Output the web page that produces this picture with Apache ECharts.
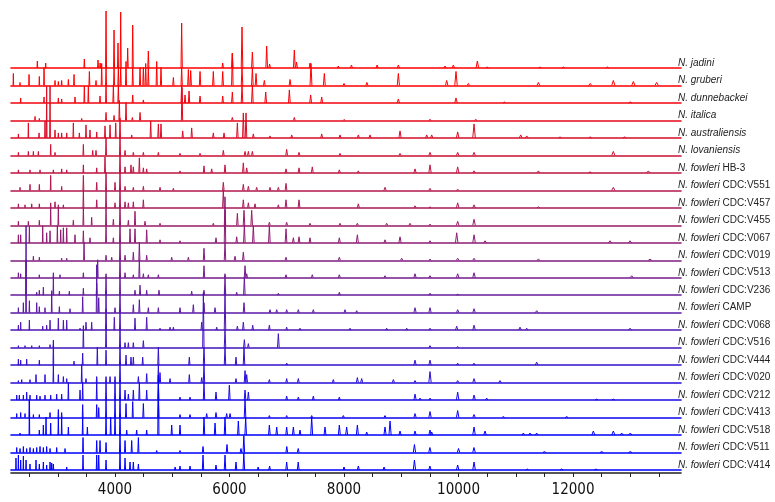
<!DOCTYPE html>
<html>
<head>
<meta charset="utf-8">
<script src="https://cdn.jsdelivr.net/npm/echarts@6/dist/echarts.min.js"></script>
<style>html,body{margin:0;padding:0;background:#fff}#c{width:775px;height:502px}</style>
</head>
<body>
<div id="c"></div>
<script>
// ---- data: m/z axis ----
const XMIN = 2183, XMAX = 13886;
const tickValues = [2500,3000,3500,4000,4500,5000,5500,6000,6500,7000,7500,8000,8500,9000,9500,10000,10500,11000,11500,12000,12500,13000,13500];
const tickLabels = [4000,6000,8000,10000,12000];

// ---- data: sample names ----
const species = ['N. jadini','N. gruberi','N. dunnebackei','N. italica','N. australiensis','N. lovaniensis',
  'N. fowleri','N. fowleri','N. fowleri','N. fowleri','N. fowleri','N. fowleri','N. fowleri','N. fowleri','N. fowleri',
  'N. fowleri','N. fowleri','N. fowleri','N. fowleri','N. fowleri','N. fowleri','N. fowleri','N. fowleri','N. fowleri'];
const strains = ['','','','','','','HB-3','CDC:V551','CDC:V457','CDC:V455','CDC:V067','CDC:V019','CDC:V513','CDC:V236',
  'CAMP','CDC:V068','CDC:V516','CDC:V444','CDC:V020','CDC:V212','CDC:V413','CDC:V518','CDC:V511','CDC:V414'];

// ---- data: peak lists [m/z, intensity (a.u.)] ----
const jadini = [[2643,7],[2789,5],[3464,9],[3703,8],[3740,5],[3843,57],[3983,38],[4052,25],[4099,56],[4221,20],[4309,43],[4582,17],[5164,45],[5881,5],[6049,15],[6218,41],[6399,16],[6649,22],[6700,4],[7132,18],[7170,6],[7406,5],[7900,2],[8130,3],[8578,3],[8949,3],[9764,2],[9910,3],[10329,7],[10500,1],[11423,1],[11831,1],[12600,1]];
const gruberi = [[2224,12],[2341,3],[2498,11],[2678,9],[2760,18],[2952,5],[3010,4],[3068,5],[3185,6],[3284,11],[3552,14],[3668,5],[3767,22],[3843,18],[3983,18],[4058,18],[4099,18],[4192,24],[4309,18],[4437,18],[4495,18],[4536,22],[4582,18],[4728,24],[4803,18],[5019,8],[5164,18],[5281,16],[5322,15],[5485,14],[5717,14],[5881,14],[6049,32],[6218,18],[6399,18],[6463,12],[6608,5],[7057,6],[7423,22],[7656,12],[8000,2],[8400,3],[8949,12],[9793,5],[9956,14],[10172,2],[11395,3],[12300,2],[12704,5],[13054,4],[13461,3]];
const dunnebackei = [[2352,5],[2760,6],[3010,5],[3068,4],[3301,6],[3464,17],[3534,17],[3738,7],[3843,18],[3971,18],[4058,18],[4309,8],[4495,3],[5164,18],[5223,8],[5293,12],[5485,7],[5881,7],[6049,11],[6218,18],[6399,18],[6632,11],[7045,13],[7417,8],[7610,6],[8949,4],[9956,5],[10800,1],[13000,1]];
const italica = [[2603,4],[2678,2],[3418,2],[3843,8],[3983,5],[4076,20],[4192,18],[4303,3],[4437,8],[5170,33],[6049,3],[7132,3],[8000,1],[9500,1],[10300,1]];
const australiensis = [[2312,4],[2486,15],[2673,5],[2777,17],[2806,52],[2865,52],[2952,8],[3010,5],[3068,5],[3156,5],[3272,15],[3377,5],[3493,13],[3563,8],[3680,6],[3825,12],[3913,13],[4012,15],[4087,20],[4291,3],[4623,17],[4757,14],[4803,14],[5182,7],[5339,10],[5717,5],[5904,5],[6137,15],[6241,25],[6288,25],[6416,4],[6707,2],[7086,3],[7610,4],[7930,3],[8250,3],[8454,3],[8978,7],[9444,3],[9531,3],[9985,6],[10271,14],[11086,3],[11191,2],[11773,1],[12300,1],[12900,1]];
const lovaniensis = [[2312,3],[2486,4],[2574,4],[2661,4],[2876,11],[2952,3],[3447,11],[3610,5],[3668,5],[3843,18],[4087,20],[4175,5],[4320,3],[4495,3],[4757,3],[5135,2],[5485,2],[5892,5],[6271,4],[6329,4],[6399,4],[6998,6],[7214,3],[7930,2],[8978,2],[9502,3],[9985,3],[10271,3],[12704,4]];
const fowleriHB3 = [[2312,3],[2515,3],[2690,3],[2923,3],[3068,4],[3156,3],[3447,8],[3680,5],[3825,16],[4087,20],[4175,6],[4279,8],[4320,6],[4425,15],[4495,5],[4553,4],[5135,2],[5554,7],[5688,4],[5921,8],[6241,10],[6300,5],[6987,4],[7214,5],[7446,6],[7918,3],[8250,2],[9240,4],[9502,8],[9985,6],[10271,2],[11395,2],[12297,1],[13316,2]];
const fowleriV551 = [[2341,3],[2515,6],[2678,6],[2876,15],[3068,4],[3447,15],[3680,8],[3843,18],[4000,8],[4087,20],[4175,4],[4320,3],[4495,4],[4786,3],[5019,2],[5892,8],[6241,6],[6329,4],[6474,3],[6707,3],[6853,3],[6987,7],[8716,3],[9502,2],[9985,1],[12704,3]];
const fowleriV457 = [[2312,4],[2428,3],[2545,4],[2678,4],[2876,5],[2952,6],[3010,3],[3098,3],[3447,18],[3680,8],[3843,18],[4000,5],[4087,20],[4175,6],[4233,5],[4320,6],[4495,8],[5892,18],[6241,8],[6329,5],[6445,4],[6853,3],[6987,8],[7214,8],[8250,4],[9240,2],[9502,1],[9985,5],[10271,3],[11395,1]];
const fowleriV455 = [[2312,4],[2486,4],[2678,5],[2876,18],[3010,18],[3272,5],[3447,18],[3592,8],[3843,18],[3971,6],[4087,20],[4233,5],[4349,14],[4524,4],[4786,2],[5717,2],[5921,15],[6137,12],[6253,15],[6387,15],[6696,3],[6998,3],[7406,2],[7930,2],[8233,2],[8745,2],[9153,2],[9502,1],[9985,4],[10271,6]];
const fowleriV067 = [[2312,8],[2352,8],[2504,17],[2737,17],[2806,10],[2865,12],[2993,17],[3051,13],[3098,15],[3156,15],[3301,8],[3447,12],[3563,5],[3843,18],[3971,5],[4087,20],[4262,14],[4349,14],[4553,13],[4786,3],[5135,2],[5764,5],[5921,46],[6125,6],[6259,18],[6416,17],[6696,17],[6987,14],[7115,5],[7214,6],[7406,5],[7918,5],[8233,8],[8716,3],[8978,6],[9502,2],[9968,10],[10271,8],[10463,2],[12646,2],[12996,2]];
const fowleriV019 = [[2574,4],[2678,3],[3068,2],[3156,2],[3459,18],[3843,5],[3942,3],[4087,20],[4175,5],[4320,8],[4425,18],[4553,5],[4990,3],[5281,3],[5554,12],[5921,18],[6096,4],[6241,8],[6987,3],[7918,3],[9007,2],[9502,1],[9985,2],[10271,2],[11395,1],[13345,1]];
const fowleriV513 = [[2312,5],[2352,4],[2446,18],[2678,3],[2923,5],[3039,3],[3447,5],[3697,18],[3843,4],[4087,20],[4175,5],[4320,3],[4425,18],[4495,4],[4582,3],[4757,3],[5554,12],[5921,4],[6271,12],[6300,4],[6987,3],[7446,3],[7918,3],[8716,2],[9240,4],[9502,2],[9985,4],[10271,5],[13025,2]];
const fowleriV236 = [[2446,18],[2632,3],[2678,5],[2748,8],[2923,18],[3028,4],[3202,4],[3447,7],[3680,12],[3843,18],[4087,20],[4349,5],[4437,10],[4553,5],[4768,5],[5339,4],[5554,5],[5921,18],[6125,3],[6259,18],[6853,2],[7918,3],[9502,2],[9985,1]];
const fowleriCAMP = [[2312,5],[2399,10],[2446,87],[2504,12],[2632,10],[2678,6],[2777,5],[2894,22],[3028,6],[3214,4],[3435,16],[3680,48],[3715,15],[3843,4],[4000,5],[4087,20],[4320,8],[4425,13],[4582,5],[4757,5],[5135,5],[5368,8],[5554,10],[5747,5],[6253,10],[6707,3],[6824,3],[6998,3],[7202,3],[7464,3],[8017,3],[8221,2],[9240,5],[9502,5],[9985,3],[10271,4],[11365,2]];
const fowleriV068 = [[2312,5],[2352,8],[2504,10],[2737,4],[2806,5],[2865,10],[3010,12],[3098,10],[3156,10],[3389,2],[3493,8],[3592,8],[3843,40],[3988,13],[4087,20],[4349,12],[4553,13],[4786,2],[4961,3],[5019,3],[5514,8],[5776,3],[5921,40],[6137,4],[6241,8],[6405,5],[6696,5],[6998,3],[7231,2],[8105,2],[8745,2],[9095,2],[9502,2],[9968,4],[10271,5],[11074,3],[11191,2],[12996,2]];
const fowleriV516 = [[2312,2],[2428,2],[2545,2],[2678,2],[2865,3],[2923,3],[3447,22],[3843,22],[4087,20],[4175,5],[4233,5],[4320,5],[4495,7],[5543,55],[5921,18],[6259,8],[6329,4],[6853,14],[9502,2],[9985,1]];
const fowleriV444 = [[2312,6],[2352,5],[2457,6],[2678,5],[2923,25],[3284,4],[3435,12],[3691,18],[3843,15],[4087,20],[4192,10],[4279,8],[4320,8],[4483,8],[4757,18],[5298,8],[5554,18],[5921,18],[6113,8],[6253,18],[7000,2],[9240,5],[9502,5],[9985,2],[10271,2],[11365,3]];
const fowleriV020 = [[2312,2],[2370,3],[2515,3],[2620,8],[2777,8],[2923,18],[3010,8],[3098,6],[3156,4],[3418,18],[3493,4],[3680,6],[3843,6],[3913,6],[4000,6],[4087,20],[4408,6],[4553,9],[4757,18],[4786,10],[4961,4],[5298,8],[5514,5],[5554,18],[6113,4],[6271,12],[6300,8],[6696,3],[6998,4],[7202,4],[7813,3],[8233,5],[8308,4],[8862,3],[9240,2],[9502,11],[9985,2],[10271,4],[10725,2]];
const fowleriV212 = [[2283,5],[2329,5],[2399,5],[2457,8],[2515,5],[2632,5],[2690,4],[2777,5],[2876,5],[2981,6],[3068,6],[3185,18],[3389,10],[3435,18],[3680,18],[3843,18],[4000,18],[4087,20],[4175,10],[4233,6],[4320,10],[4425,18],[4553,10],[4757,18],[5135,3],[5310,3],[5554,18],[5764,8],[5997,15],[6271,10],[6329,8],[6998,4],[7202,3],[7464,4],[7918,3],[9240,6],[9328,2],[9502,2],[9985,8],[10271,5],[10492,2],[12413,1],[12704,1]];
const fowleriV413 = [[2283,4],[2352,5],[2428,4],[2504,18],[2574,3],[2678,3],[2865,5],[3010,8],[3068,5],[3435,13],[3680,13],[3715,10],[3843,18],[4000,18],[4087,20],[4192,14],[4309,16],[4495,14],[4757,18],[5135,3],[5310,3],[5601,4],[5764,5],[5950,4],[6009,4],[6271,18],[6696,2],[6998,2],[7435,2],[7988,2],[8716,2],[9240,4],[9502,6],[9985,7],[10271,3],[10783,1],[11889,1]];
const fowleriV518 = [[2341,2],[2504,35],[2678,5],[2748,10],[2795,18],[2876,12],[3010,18],[3068,18],[3185,8],[3435,18],[3517,8],[3843,18],[3924,18],[4000,18],[4087,20],[4204,5],[4378,5],[4553,5],[4757,60],[4990,10],[5135,10],[5554,18],[5747,12],[5921,18],[6154,14],[6282,18],[6696,10],[6824,8],[6998,8],[7115,8],[7231,5],[7435,18],[7668,8],[7918,10],[8046,8],[8233,10],[8396,3],[8716,8],[8804,14],[8978,4],[9240,4],[9502,5],[9531,3],[10271,8],[10463,4],[11132,2],[11249,2],[11365,2],[12355,4],[12704,4],[12850,2],[13000,2]];
const fowleriV511 = [[2283,5],[2341,4],[2399,6],[2457,4],[2515,5],[2574,4],[2632,5],[2690,6],[2748,5],[2806,6],[2865,4],[2981,5],[3127,4],[3441,15],[3680,12],[3738,12],[3843,10],[4087,20],[4175,12],[4291,12],[4408,15],[4728,2],[5135,2],[5537,6],[5956,8],[6200,4],[6250,17],[7000,6],[7200,4],[9230,8],[9500,5],[10000,4],[10270,5],[11500,1],[12500,1],[13000,1]];
const fowleriV414 = [[2270,12],[2312,15],[2352,10],[2399,14],[2446,10],[2515,6],[2620,10],[2678,6],[2748,8],[2806,5],[2865,8],[2894,7],[2923,6],[3156,3],[3441,15],[3680,15],[3715,15],[3843,10],[4087,20],[4175,12],[4262,8],[4320,8],[4408,6],[5050,3],[5135,4],[5310,4],[5537,15],[5764,5],[5921,15],[6113,8],[6250,17],[6500,3],[6700,4],[6998,8],[7200,8],[8000,3],[8250,4],[8700,3],[9230,10],[9500,4],[9985,5],[10271,8],[11200,1],[11800,1],[12400,1]];

const spectra = [jadini,gruberi,dunnebackei,italica,australiensis,lovaniensis,fowleriHB3,fowleriV551,fowleriV457,
  fowleriV455,fowleriV067,fowleriV019,fowleriV513,fowleriV236,fowleriCAMP,fowleriV068,fowleriV516,fowleriV444,
  fowleriV020,fowleriV212,fowleriV413,fowleriV518,fowleriV511,fowleriV414];

// ---- layout / style ----
const n = spectra.length;
const firstBase = 68, step = (470 - 68) / (n - 1);
const plotLeft = 11, plotWidth = 670;
function rowColor(i) {
  const t = Math.min(1, Math.max(0, (i - 1) / (n - 4)));
  const r = Math.round(255 * (1 - t)), g = Math.round(28 * Math.sin(Math.PI * t)), b = Math.round(255 * t);
  return 'rgb(' + r + ',' + g + ',' + b + ')';
}
const grids = [], xAxes = [], yAxes = [], series = [], graphics = [];
spectra.forEach(function (peaks, i) {
  const base = firstBase + i * step;
  const gtop = Math.max(0, base - 90);
  const col = rowColor(i);
  grids.push({ left: plotLeft, width: plotWidth, top: gtop, height: base - gtop });
  yAxes.push({ gridIndex: i, type: 'value', min: 0, max: base - gtop, show: false });
  xAxes.push({ gridIndex: i, type: 'value', min: XMIN, max: XMAX,
    axisLine: { show: true, onZero: false, lineStyle: { color: col, width: 1.6 } },
    axisTick: { show: false }, axisLabel: { show: false }, splitLine: { show: false } });
  series.push({ type: 'custom', xAxisIndex: i, yAxisIndex: i, data: peaks, clip: false, silent: true,
    renderItem: function (params, api) {
      const mz = api.value(0), h = api.value(1), w = mz * 0.0022;
      return { type: 'polyline',
        shape: { points: [api.coord([mz - w, 0]), api.coord([mz, h]), api.coord([mz + w, 0])] },
        style: { stroke: col, lineWidth: 1, fill: null } };
    } });
  const txt = strains[i] ? '{it|' + species[i] + '} ' + strains[i] : '{it|' + species[i] + '}';
  graphics.push({ type: 'text', x: 678, y: base - 5, silent: true,
    style: { text: txt, fill: '#222', fontSize: 10, fontFamily: 'Liberation Sans, Arial, sans-serif',
      verticalAlign: 'middle', align: 'left',
      rich: { it: { fontStyle: 'italic', fontSize: 10, fill: '#222', fontFamily: 'Liberation Sans, Arial, sans-serif' } } } });
});
// bottom m/z axis
xAxes.push({ gridIndex: n - 1, type: 'value', min: XMIN, max: XMAX, position: 'bottom', offset: 3,
  axisLine: { show: true, onZero: false, lineStyle: { color: '#222', width: 1.6 } },
  axisTick: { show: true, customValues: tickValues, length: 4, lineStyle: { color: '#222', width: 1 } },
  axisLabel: { show: true, customValues: tickLabels, margin: 10, fontSize: 15, color: '#111',
    formatter: function (v) { return String(v); },
    fontFamily: "'Liberation Sans Narrow', 'DejaVu Sans Condensed', sans-serif" },
  splitLine: { show: false } });

const chart = echarts.init(document.getElementById('c'), null, { renderer: 'canvas' });
chart.setOption({ backgroundColor: '#fff', animation: false, grid: grids, xAxis: xAxes, yAxis: yAxes,
  series: series, graphic: graphics });
</script>
</body>
</html>
